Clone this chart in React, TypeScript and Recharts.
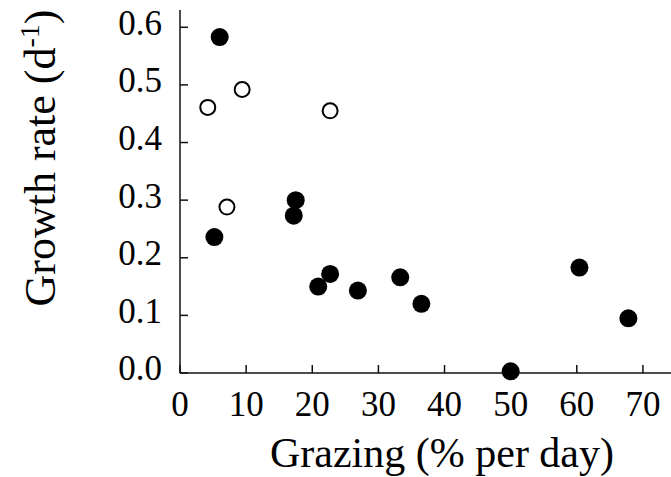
import { ScatterChart, Scatter, XAxis, YAxis } from "recharts";

// filled symbols
const filledGrazing = [6.0, 5.2, 17.5, 17.2, 20.9, 22.7, 26.9, 33.3, 36.5, 50.0, 60.4, 67.8];
const filledGrowth = [0.583, 0.236, 0.3, 0.273, 0.15, 0.172, 0.143, 0.166, 0.12, 0.003, 0.183, 0.095];

// open symbols
const openGrazing = [4.2, 9.4, 7.1, 22.7];
const openGrowth = [0.461, 0.492, 0.288, 0.455];

const xTicks = [0, 10, 20, 30, 40, 50, 60, 70];
const yTicks = [0, 0.1, 0.2, 0.3, 0.4, 0.5, 0.6];

const FONT = "'Liberation Serif', 'Times New Roman', serif";
const INK = "#111";

const filledData = filledGrazing.map((x, i) => ({ x, y: filledGrowth[i] }));
const openData = openGrazing.map((x, i) => ({ x, y: openGrowth[i] }));

const axisLine = { stroke: INK, strokeWidth: 1.5 };
const tickLine = { stroke: INK, strokeWidth: 1.5 };
const tickStyle = { fill: "#000", fontSize: 35, fontFamily: FONT };

function FilledDot(props: any) {
  const { cx, cy } = props;
  return <circle cx={cx} cy={cy} r={9} fill="#000" />;
}

function OpenDot(props: any) {
  const { cx, cy } = props;
  return <circle cx={cx} cy={cy} r={7.5} fill="#fff" stroke="#000" strokeWidth={2} />;
}

function XTitle(props: any) {
  const vb = props.viewBox || { x: 180, y: 373, width: 496 };
  return (
    <text
      x={vb.x + vb.width / 2 + 14}
      y={vb.y + 94}
      textAnchor="middle"
      fontFamily={FONT}
      fontSize={42}
      fill="#000"
    >
      Grazing (% per day)
    </text>
  );
}

function YTitle() {
  const x = 55;
  const y = 158;
  return (
    <text
      x={x}
      y={y}
      transform={`rotate(-90, ${x}, ${y})`}
      textAnchor="middle"
      fontFamily={FONT}
      fontSize={44}
      fill="#000"
    >
      Growth rate (d
      <tspan dy={-16} fontSize={28}>-1</tspan>
      <tspan dy={16}>)</tspan>
    </text>
  );
}

export default function App() {
  return (
    <div
      style={{
        position: "absolute",
        left: 0,
        top: 0,
        width: 671,
        height: 477,
        overflow: "hidden",
        background: "#fff",
      }}
    >
      <ScatterChart width={690} height={477} margin={{ top: 10, right: 14, bottom: 0, left: 0 }}>
        <XAxis
          xAxisId="bottom"
          dataKey="x"
          type="number"
          domain={[0, 75]}
          ticks={xTicks}
          interval={0}
          height={104}
          axisLine={axisLine}
          tickLine={tickLine}
          tickSize={-8}
          tickMargin={26}
          tick={tickStyle}
          label={(p: any) => <XTitle {...p} />}
        />
        <XAxis
          xAxisId="top"
          orientation="top"
          dataKey="x"
          type="number"
          domain={[0, 75]}
          ticks={xTicks}
          interval={0}
          height={0}
          axisLine={axisLine}
          tickLine={tickLine}
          tickSize={-8}
          tick={false}
        />
        <YAxis
          yAxisId="left"
          dataKey="y"
          type="number"
          domain={[0, 0.63]}
          ticks={yTicks}
          interval={0}
          width={180}
          axisLine={axisLine}
          tickLine={tickLine}
          tickSize={-8}
          tickMargin={26}
          tick={{ ...tickStyle, dy: -5 }}
          tickFormatter={(v: number) => v.toFixed(1)}
          label={() => <YTitle />}
        />
        <YAxis
          yAxisId="right"
          orientation="right"
          dataKey="y"
          type="number"
          domain={[0, 0.63]}
          ticks={yTicks}
          interval={0}
          width={0}
          axisLine={axisLine}
          tickLine={tickLine}
          tickSize={-8}
          tick={false}
        />
        <Scatter
          data={openData}
          xAxisId="bottom"
          yAxisId="left"
          shape={OpenDot}
          isAnimationActive={false}
        />
        <Scatter
          data={filledData}
          xAxisId="bottom"
          yAxisId="left"
          shape={FilledDot}
          isAnimationActive={false}
        />
      </ScatterChart>
    </div>
  );
}
